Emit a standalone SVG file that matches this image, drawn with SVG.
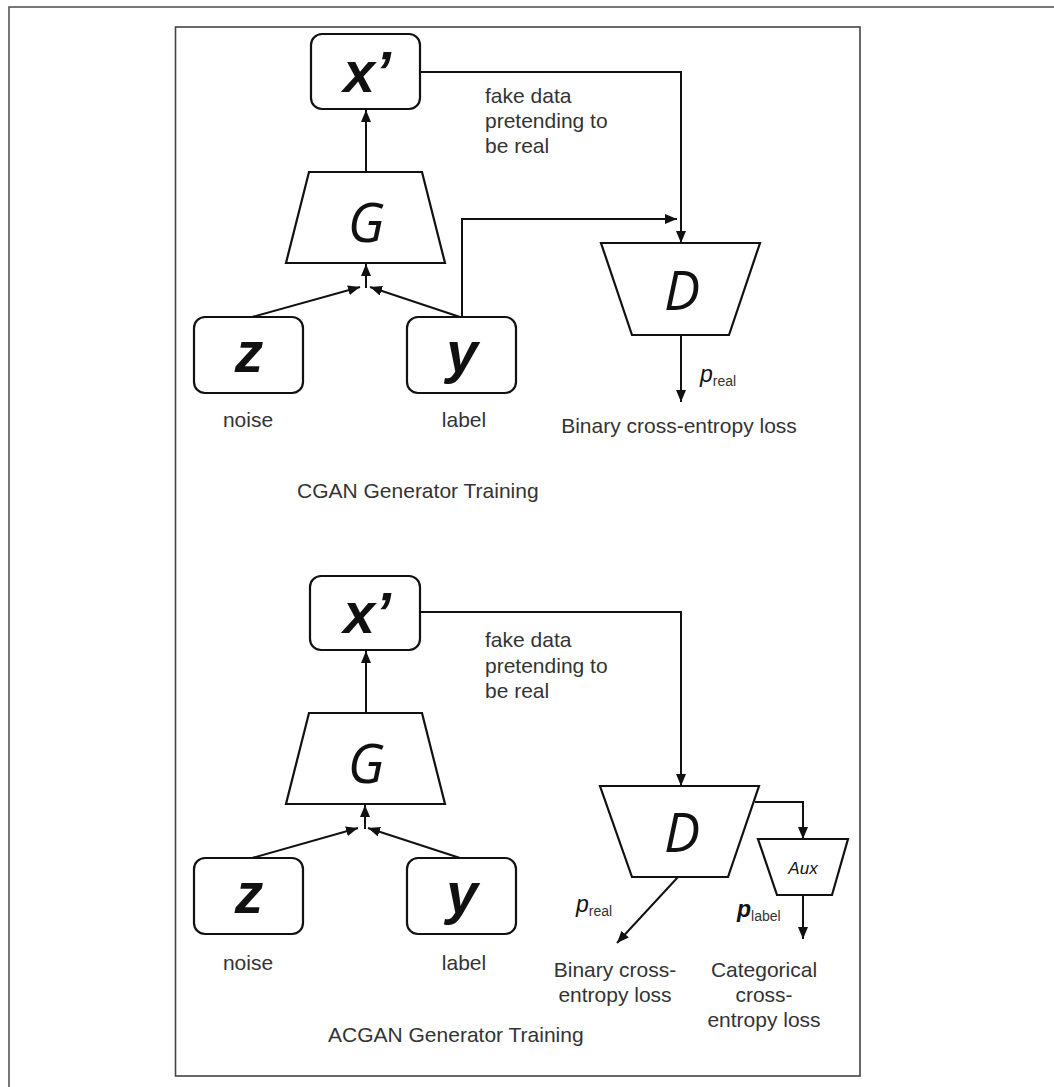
<svg xmlns="http://www.w3.org/2000/svg" width="1054" height="1087" viewBox="0 0 1054 1087">
<defs>
<style>
.frame{fill:none;stroke:#444;stroke-width:1.6}
.page{fill:none;stroke:#555;stroke-width:1.6}
.box{fill:#fff;stroke:#111;stroke-width:2.2}
.conn{fill:none;stroke:#111;stroke-width:2}
.sym{font-family:"Liberation Sans",Arial,sans-serif;font-weight:bold;font-style:italic;font-size:57px;fill:#111;text-anchor:middle}
.net{font-family:"Open Sans","DejaVu Sans",sans-serif;font-style:italic;font-size:54px;fill:#111;text-anchor:middle}
.lbl{font-family:"Liberation Sans",Arial,sans-serif;font-size:21px;fill:#333}
.mid{text-anchor:middle}
.p{font-family:"Liberation Sans",Arial,sans-serif;font-style:italic;font-size:23px;fill:#111}
.sub{font-family:"Liberation Sans",Arial,sans-serif;font-style:normal;font-weight:normal;font-size:14px;fill:#333}
.aux{font-family:"Liberation Sans",Arial,sans-serif;font-style:italic;font-size:17px;fill:#111;text-anchor:middle}
</style>
<marker id="arr" markerUnits="userSpaceOnUse" markerWidth="12" markerHeight="10" refX="12" refY="5" orient="auto">
<path d="M0,0 L12,5 L0,10 z" fill="#111"/>
</marker>
</defs>
<rect x="0" y="0" width="1054" height="1087" fill="#fff"/>
<rect class="page" x="9" y="7" width="1100" height="1100"/>
<rect class="frame" x="175.5" y="27" width="684.5" height="1049"/>

<g id="connectors">
<path class="conn" d="M366,172 V110" marker-end="url(#arr)"/>
<path class="conn" d="M420,72 H681 V243" marker-end="url(#arr)"/>
<path class="conn" d="M462,317 V219 H677" marker-end="url(#arr)"/>
<path class="conn" d="M252,317 L360,287" marker-end="url(#arr)"/>
<path class="conn" d="M460,317 L370,287" marker-end="url(#arr)"/>
<path class="conn" d="M366,288 V264" marker-end="url(#arr)"/>
<path class="conn" d="M681,335 V402" marker-end="url(#arr)"/>

<path class="conn" d="M366,713 V651" marker-end="url(#arr)"/>
<path class="conn" d="M420,612 H681 V786" marker-end="url(#arr)"/>
<path class="conn" d="M252,858 L358,828" marker-end="url(#arr)"/>
<path class="conn" d="M460,858 L368,828" marker-end="url(#arr)"/>
<path class="conn" d="M365,829 V805" marker-end="url(#arr)"/>
<path class="conn" d="M755,802 H803 V839" marker-end="url(#arr)"/>
<path class="conn" d="M678,877 L617,943" marker-end="url(#arr)"/>
<path class="conn" d="M803,895 V939" marker-end="url(#arr)"/>
</g>

<!-- CGAN -->
<g id="cgan-xprime">
<rect class="box" x="311" y="34" width="109" height="75" rx="11"/>
<text class="sym" x="367" y="92">x’</text>
</g>
<g id="cgan-G">
<polygon class="box" points="309,172 422,172 445,263 286,263"/>
<text class="net" x="366" y="242">G</text>
</g>
<g id="cgan-z">
<rect class="box" x="194" y="317" width="109" height="76" rx="11"/>
<text class="sym" x="249" y="372">z</text>
</g>
<g id="cgan-y">
<rect class="box" x="407" y="317" width="109" height="76" rx="11"/>
<text class="sym" x="462" y="372">y</text>
</g>
<g id="cgan-D">
<polygon class="box" points="601,243 760,243 729,335 632,335"/>
<text class="net" x="682" y="310">D</text>
</g>
<g id="cgan-labels">
<text class="lbl" x="485" y="103">fake data</text>
<text class="lbl" x="485" y="128">pretending to</text>
<text class="lbl" x="485" y="153">be real</text>
<text class="lbl mid" x="248" y="427">noise</text>
<text class="lbl mid" x="464" y="427">label</text>
<text class="p" x="700" y="382">p<tspan class="sub" dy="4">real</tspan></text>
<text class="lbl mid" x="679" y="433">Binary cross-entropy loss</text>
<text class="lbl" x="297" y="498">CGAN Generator Training</text>
</g>

<!-- ACGAN -->
<g id="acgan-xprime">
<rect class="box" x="310" y="576" width="110" height="74" rx="11"/>
<text class="sym" x="367" y="633">x’</text>
</g>
<g id="acgan-G">
<polygon class="box" points="309,713 422,713 445,804 286,804"/>
<text class="net" x="366" y="783">G</text>
</g>
<g id="acgan-z">
<rect class="box" x="194" y="858" width="109" height="76" rx="11"/>
<text class="sym" x="249" y="913">z</text>
</g>
<g id="acgan-y">
<rect class="box" x="407" y="858" width="109" height="76" rx="11"/>
<text class="sym" x="462" y="913">y</text>
</g>
<g id="acgan-D">
<polygon class="box" points="600,786 759,786 728,877 632,877"/>
<text class="net" x="682" y="852">D</text>
</g>
<g id="acgan-Aux">
<polygon class="box" points="758,839 848,839 832,895 777,895"/>
<text class="aux" x="803" y="874">Aux</text>
</g>
<g id="acgan-labels">
<text class="lbl" x="485" y="647">fake data</text>
<text class="lbl" x="485" y="673">pretending to</text>
<text class="lbl" x="485" y="698">be real</text>
<text class="lbl mid" x="248" y="970">noise</text>
<text class="lbl mid" x="464" y="970">label</text>
<text class="p" x="576" y="912">p<tspan class="sub" dy="4">real</tspan></text>
<text class="p" x="737" y="917" font-weight="bold">p<tspan class="sub" dy="4">label</tspan></text>
<text class="lbl mid" x="615" y="977">Binary cross-</text>
<text class="lbl mid" x="615" y="1002">entropy loss</text>
<text class="lbl mid" x="764" y="977">Categorical</text>
<text class="lbl mid" x="764" y="1002">cross-</text>
<text class="lbl mid" x="764" y="1027">entropy loss</text>
<text class="lbl" x="328" y="1042">ACGAN Generator Training</text>
</g>
</svg>
